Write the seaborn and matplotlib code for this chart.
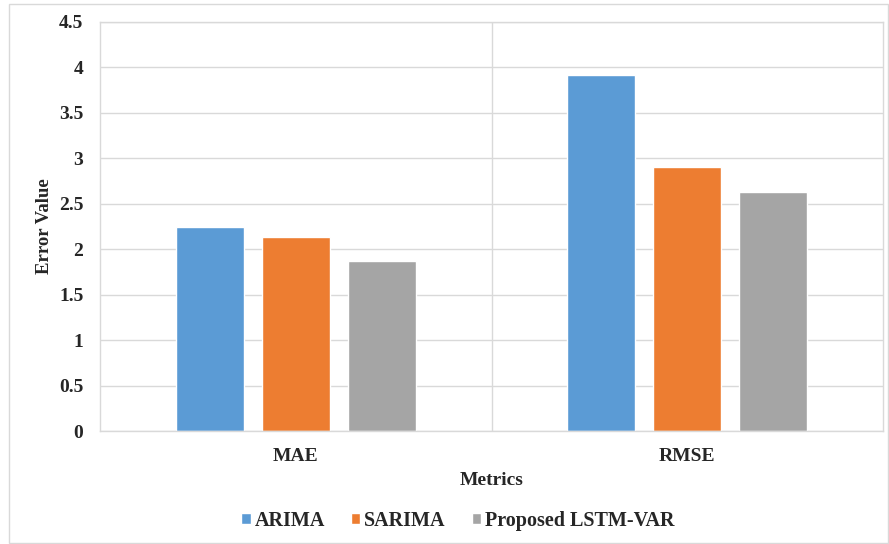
import pandas as pd
import matplotlib.pyplot as plt
import seaborn as sns
from matplotlib.patches import Rectangle

# data
metrics = ["MAE", "RMSE"]
models = ["ARIMA", "SARIMA", "Proposed LSTM-VAR"]
arima = [2.24, 3.92]
sarima = [2.13, 2.90]
lstm_var = [1.87, 2.63]

df = pd.DataFrame({
    "Metrics": metrics * 3,
    "Model": [m for m in models for _ in metrics],
    "Error Value": arima + sarima + lstm_var,
})

palette = {"ARIMA": "#5b9bd5", "SARIMA": "#ed7d31", "Proposed LSTM-VAR": "#a5a5a5"}

sns.set_style("white")
plt.rcParams["font.family"] = ["Liberation Serif", "DejaVu Serif"]
plt.rcParams["font.weight"] = "bold"

fig = plt.figure(figsize=(8.89, 5.44), dpi=100)
ax = fig.add_axes([100 / 889, 1 - 431 / 544, 783 / 889, 409 / 544])

sns.barplot(
    data=df, x="Metrics", y="Error Value", hue="Model",
    palette=palette, width=0.66, gap=0.21, saturation=1,
    ax=ax, legend=True,
)

ax.set_ylim(0, 4.5)
ax.set_yticks([0, 0.5, 1, 1.5, 2, 2.5, 3, 3.5, 4, 4.5])
ax.set_yticklabels(["0", "0.5", "1", "1.5", "2", "2.5", "3", "3.5", "4", "4.5"])
ax.set_xlim(-0.5, 1.5)
ax.yaxis.grid(True, color="#d9d9d9", linewidth=1)
ax.set_axisbelow(True)
ax.axvline(0.5, color="#d9d9d9", linewidth=1, zorder=0)
for s in ax.spines.values():
    s.set_color("#d9d9d9")
    s.set_linewidth(1)
ax.tick_params(axis="y", length=0, labelsize=14, pad=12)
ax.tick_params(axis="x", length=0, labelsize=14, pad=12)
for lbl in ax.get_xticklabels() + ax.get_yticklabels():
    lbl.set_fontweight("bold")

ax.set_xlabel("Metrics", fontsize=14, fontweight="bold", labelpad=5)
ax.set_ylabel("Error Value", fontsize=13.5, fontweight="bold", labelpad=4)

handles, labels = ax.get_legend_handles_labels()
fig.legend(
    handles, labels, loc="center", bbox_to_anchor=(458 / 889, 1 - 521 / 544),
    ncol=3, frameon=False, handlelength=0.45, handleheight=0.45,
    handletextpad=0.2, columnspacing=1.3, prop={"weight": "bold", "size": 14.5},
)
ax.get_legend().remove()

# outer chart border
fig.patches.append(Rectangle((9 / 889, 1 / 544), 879 / 889, 539 / 544,
                             transform=fig.transFigure, fill=False,
                             edgecolor="#d9d9d9", linewidth=1))

fig.savefig("out.png", dpi=100)
